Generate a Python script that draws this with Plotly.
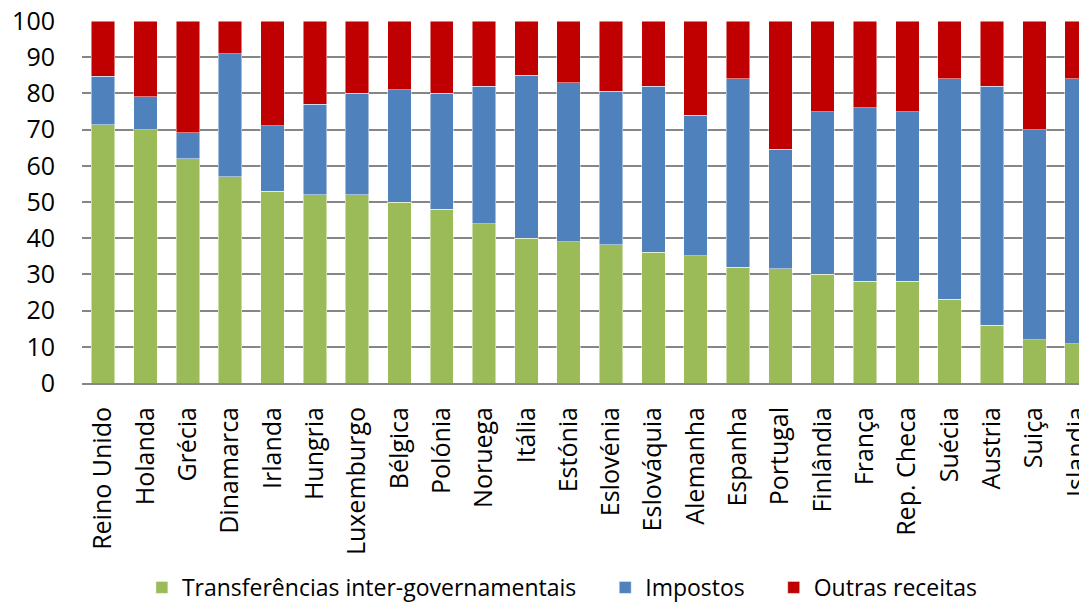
import plotly.graph_objects as go

countries = ["Reino Unido", "Holanda", "Grécia", "Dinamarca", "Irlanda", "Hungria",
             "Luxemburgo", "Bélgica", "Polónia", "Noruega", "Itália", "Estónia",
             "Eslovénia", "Eslováquia", "Alemanha", "Espanha", "Portugal", "Finlândia",
             "França", "Rep. Checa", "Suécia", "Austria", "Suiça", "Islandia"]

transferencias = [71.3, 70, 62, 57, 53, 52, 52, 50, 48, 44, 40, 39,
                  38.2, 36.1, 35.1, 32, 31.5, 30, 28.1, 28.1, 23.1, 16, 12, 10.9]
# cumulative tops of transfers + taxes
cumulativo = [84.8, 79.1, 69.1, 91, 71, 77, 80, 81, 80, 82, 85, 83,
              80.6, 82, 74, 84, 64.6, 75, 76, 75, 84, 82, 70, 84]
impostos = [round(c - t, 1) for c, t in zip(cumulativo, transferencias)]
outras = [round(100 - c, 1) for c in cumulativo]

y_ticks = [0, 10, 20, 30, 40, 50, 60, 70, 80, 90, 100]

PAD = "\u00a0" * 4
fig = go.Figure()
series = [("Transferências inter-governamentais", transferencias, "#9BBB59"),
          ("Impostos", impostos, "#4F81BD"),
          ("Outras receitas", outras, "#C00000")]
for i, (name, vals, col) in enumerate(series):
    label = name + (PAD if i < len(series) - 1 else "")
    fig.add_trace(go.Bar(x=countries, y=vals, name=label,
                         marker=dict(color=col, line=dict(color="rgba(255,255,255,0.6)", width=0.8))))

# page has an 8px body margin: compensate so the plot lands where the reference has it
fig.update_layout(
    barmode="stack",
    bargap=0.445,
    width=1087, height=603,
    margin=dict(l=74, r=8, t=13, b=228),
    plot_bgcolor="white", paper_bgcolor="white",
    font=dict(family="Open Sans, Arial, sans-serif", color="black"),
    showlegend=True,
    legend=dict(orientation="h", x=0.478, xanchor="center", xref="paper",
                y=0.039, yanchor="middle", yref="container",
                font=dict(family="Open Sans, sans-serif", size=23), traceorder="normal",
                itemwidth=30),
    xaxis=dict(range=[-0.5, 23.246], tickangle=-90, tickfont=dict(size=25),
               showgrid=False, showline=True, linecolor="#868686", linewidth=2,
               ticks="", ticklabelstandoff=12, automargin=False,
               ticklabeloverflow="allow"),
    yaxis=dict(range=[0, 100], tickvals=y_ticks, tickfont=dict(size=25),
               showgrid=True, gridcolor="#868686", gridwidth=2, zeroline=False,
               showline=False, ticks="", ticklabelstandoff=26, automargin=False,
               ticklabeloverflow="allow"),
)

fig.write_html("out.html")
